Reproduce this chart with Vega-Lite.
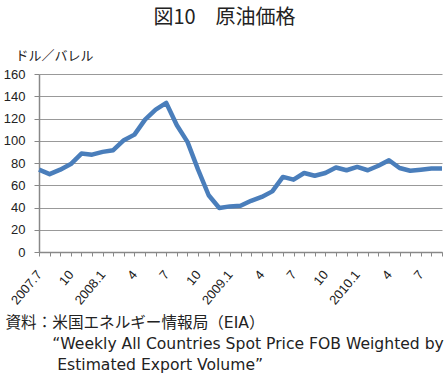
{
  "$schema": "https://vega.github.io/schema/vega-lite/v6.json",
  "autosize": {"type": "none"},
  "width": 403,
  "height": 178,
  "padding": {"left": 39, "top": 74, "right": 6, "bottom": 128},
  "background": "white",
  "title": {
    "text": "図10　原油価格",
    "font": "Noto Sans CJK JP",
    "fontSize": 20,
    "fontWeight": "normal",
    "color": "#222222",
    "anchor": "middle",
    "dx": -16,
    "dy": -17
  },
  "data": {
    "values": [
      {"m": "2007.7", "v": 74},
      {"m": "2007.8", "v": 70},
      {"m": "2007.9", "v": 74},
      {"m": "2007.10", "v": 79},
      {"m": "2007.11", "v": 88.5},
      {"m": "2007.12", "v": 87.5},
      {"m": "2008.1", "v": 90},
      {"m": "2008.2", "v": 91.5},
      {"m": "2008.3", "v": 100.5},
      {"m": "2008.4", "v": 105.5},
      {"m": "2008.5", "v": 119},
      {"m": "2008.6", "v": 128},
      {"m": "2008.7", "v": 134},
      {"m": "2008.8", "v": 114},
      {"m": "2008.9", "v": 99},
      {"m": "2008.10", "v": 74},
      {"m": "2008.11", "v": 51},
      {"m": "2008.12", "v": 39.5},
      {"m": "2009.1", "v": 41},
      {"m": "2009.2", "v": 41.5},
      {"m": "2009.3", "v": 46},
      {"m": "2009.4", "v": 49.5},
      {"m": "2009.5", "v": 54.5},
      {"m": "2009.6", "v": 67.5},
      {"m": "2009.7", "v": 65},
      {"m": "2009.8", "v": 71},
      {"m": "2009.9", "v": 68.5},
      {"m": "2009.10", "v": 71},
      {"m": "2009.11", "v": 76},
      {"m": "2009.12", "v": 73.5},
      {"m": "2010.1", "v": 76.5},
      {"m": "2010.2", "v": 73.5},
      {"m": "2010.3", "v": 77.5},
      {"m": "2010.4", "v": 82.5},
      {"m": "2010.5", "v": 75.5},
      {"m": "2010.6", "v": 73},
      {"m": "2010.7", "v": 74},
      {"m": "2010.8", "v": 75},
      {"m": "2010.9", "v": 75}
    ]
  },
  "mark": {"type": "line", "color": "#4a7ebb", "strokeWidth": 4.5, "strokeJoin": "round"},
  "encoding": {
    "x": {
      "field": "m",
      "type": "ordinal",
      "sort": null,
      "scale": {"type": "point", "padding": 0},
      "axis": {
        "labelExpr": "indexof(['1','4','7','10'], split(datum.label,'.')[1]) < 0 ? '' : ((split(datum.label,'.')[1] == '1' || datum.label == '2007.7') ? datum.label : split(datum.label,'.')[1])",
        "labelAngle": -50,
        "labelAlign": "right",
        "labelBaseline": "middle",
        "labelFont": "Liberation Sans",
        "labelFontSize": 13,
        "labelColor": "#222222",
        "labelPadding": 16,
        "labelOverlap": false,
        "tickColor": "#888888",
        "tickSize": 4,
        "domainColor": "#888888",
        "domainWidth": 1.5,
        "grid": false,
        "title": ["資料：米国エネルギー情報局（EIA）", "\u200b\u3000\u3000\u3000“Weekly All Countries Spot Price FOB Weighted by", "\u200b\u3000\u3000\u3000\u00a0Estimated Export Volume”"],
        "titleFont": "DejaVu Sans, Noto Sans CJK JP",
        "titleFontSize": 15.6,
        "titleFontWeight": "normal",
        "titleColor": "#222222",
        "titleAlign": "left",
        "titleBaseline": "top",
        "titleX": -34,
        "titleY": 63,
        "titleLineHeight": 21
      }
    },
    "y": {
      "field": "v",
      "type": "quantitative",
      "scale": {"domain": [0, 160]},
      "axis": {
        "values": [0, 20, 40, 60, 80, 100, 120, 140, 160],
        "labelFont": "Liberation Sans",
        "labelFontSize": 13,
        "labelColor": "#222222",
        "labelPadding": 9,
        "tickColor": "#888888",
        "tickSize": 5,
        "domainColor": "#888888",
        "domainWidth": 1.5,
        "gridColor": "#999999",
        "gridWidth": 1.2,
        "title": "ドル／バレル",
        "titleFont": "Noto Sans CJK JP",
        "titleFontSize": 13,
        "titleFontWeight": "normal",
        "titleColor": "#222222",
        "titleAngle": 0,
        "titleAlign": "left",
        "titleBaseline": "middle",
        "titleX": -24,
        "titleY": -19
      }
    }
  },
  "config": {"view": {"stroke": null}}
}
